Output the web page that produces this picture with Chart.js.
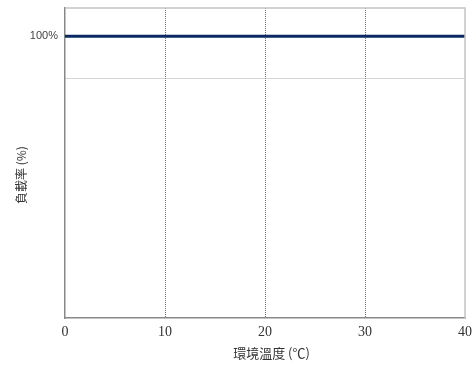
<!DOCTYPE html>
<html>
<head>
<meta charset="utf-8">
<script src="https://cdn.jsdelivr.net/npm/chart.js@4"></script>
<style>
  html, body { margin: 0; padding: 0; background: #fff; }
  #wrap { width: 476px; height: 369px; }
</style>
</head>
<body>
<div id="wrap"><canvas id="myChart"></canvas></div>
<script>
var xValues = [0, 10, 20, 30, 40];
var yValues = [100, 100, 100, 100, 100];
var yTicks = [85, 100];
var lineColor = "#0b2a63";

// top and right frame lines
var framePlugin = {
  id: "frame",
  afterDraw: function (chart) {
    var a = chart.chartArea, ctx = chart.ctx;
    ctx.save();
    ctx.strokeStyle = "#c4c4c4";
    ctx.lineWidth = 1.5;
    ctx.beginPath();
    ctx.moveTo(a.left, a.top);
    ctx.lineTo(a.right, a.top);
    ctx.lineTo(a.right, a.bottom);
    ctx.stroke();
    ctx.restore();
  }
};

new Chart("myChart", {
  type: "line",
  data: {
    datasets: [{
      data: xValues.map(function (x, i) { return {x: x, y: yValues[i]}; }),
      borderColor: lineColor,
      borderWidth: 3,
      pointRadius: 0,
      fill: false
    }]
  },
  options: {
    responsive: true,
    maintainAspectRatio: false,
    animation: false,
    layout: {padding: {top: 8, right: 11, left: 0, bottom: 0}},
    plugins: {legend: {display: false}, tooltip: {enabled: false}},
    scales: {
      x: {
        type: "linear",
        min: 0, max: 40,
        afterFit: function (s) { s.height = 51; s.paddingLeft = 0; s.paddingRight = 0; },
        ticks: {
          stepSize: 10, padding: 6, color: "#333",
          font: {family: "'Liberation Serif', 'DejaVu Serif', serif", size: 14}
        },
        grid: {
          drawTicks: false,
          color: function (c) { return (c.index === 0 || c.index === 4) ? "rgba(0,0,0,0)" : "#6e6e6e"; },
          lineWidth: 1
        },
        border: {color: "#888", width: 1.5, dash: [1, 1]},
        title: {
          display: true, text: "\u3000環境溫度 (℃)", color: "#333",
          padding: {top: 4, bottom: 8},
          font: {family: "'Noto Sans CJK TC', serif", size: 13}
        }
      },
      y: {
        min: 0, max: 110,
        afterFit: function (s) { s.width = 65; s.paddingTop = 0; s.paddingBottom = 0; },
        afterBuildTicks: function (s) { s.ticks = yTicks.map(function (v) { return {value: v}; }); },
        ticks: {
          padding: 7, color: "#444",
          font: {family: "'Liberation Sans', Arial, sans-serif", size: 11},
          callback: function (v) { return v === 100 ? "100%" : ""; }
        },
        grid: {
          drawTicks: false,
          color: function (c) { return c.tick && c.tick.value === 85 ? "#aaa" : "rgba(0,0,0,0)"; },
          lineWidth: 1
        },
        border: {color: "#888", width: 1.5, dash: [1, 1]},
        title: {
          display: true, text: "負載率 (%)\u3000\u3000", color: "#333",
          padding: {top: 14, bottom: 0},
          font: {family: "'Noto Sans CJK TC', serif", size: 12}
        }
      }
    }
  },
  plugins: [framePlugin]
});
</script>
</body>
</html>
